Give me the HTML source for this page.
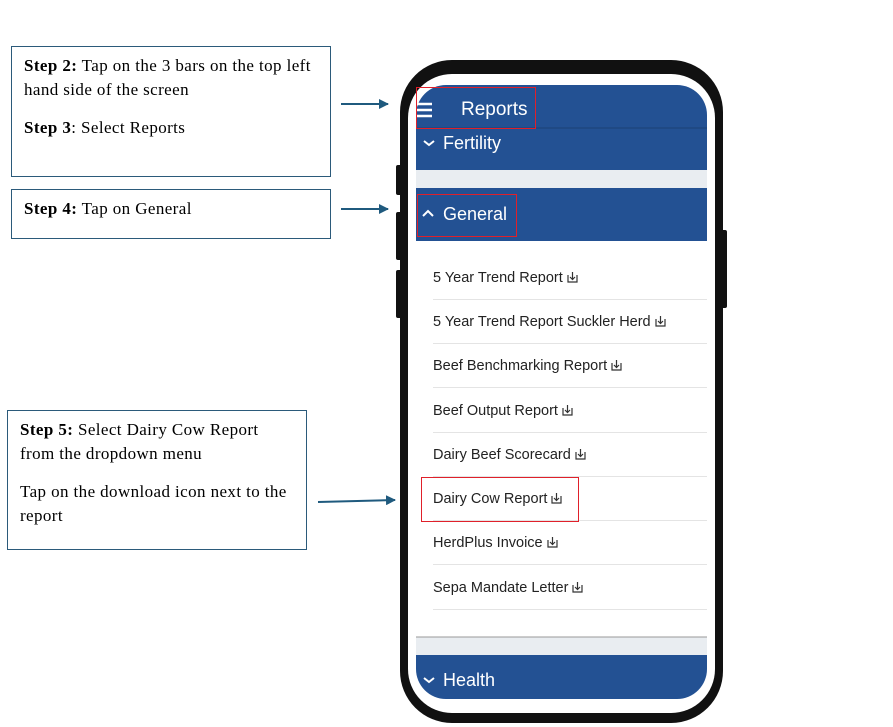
<!DOCTYPE html>
<html><head><style>
body{margin:0;width:893px;height:727px;background:#fff;position:relative;overflow:hidden;font-family:"Liberation Serif",serif}
.box{position:absolute;border:1.5px solid #2b5a7a;box-sizing:border-box;font-size:17px;letter-spacing:0.4px;line-height:24px;color:#000;padding:7px 12px}
.box p{margin:0 0 14px}
.abs{position:absolute}
.ui{font-family:"Liberation Sans","DejaVu Sans",sans-serif;color:#fff}
.item{position:absolute;left:433px;width:274px;font-family:"Liberation Sans",sans-serif;font-size:14.5px;color:#222;border-bottom:1px solid #e4e4e4;height:44px;box-sizing:border-box}
.item span{position:absolute;top:14px;white-space:nowrap}
.item svg{vertical-align:-1px;margin-left:4px}
.red{position:absolute;border:1.5px solid #e0202a}
</style></head><body>
<div class="box" style="left:11px;top:46px;width:320px;height:131px"><p style="width:296px"><b>Step 2:</b> Tap on the 3 bars on the top left hand side of the screen</p><p><b>Step 3</b>: Select Reports</p></div>
<div class="box" style="left:11px;top:189px;width:320px;height:50px"><b>Step 4:</b> Tap on General</div>
<div class="box" style="left:7px;top:410px;width:300px;height:140px;padding-left:12px"><p style="width:252px"><b>Step 5:</b> Select Dairy Cow Report from the dropdown menu</p><p style="width:276px">Tap on the download icon next to the report</p></div>
<svg class="abs" style="left:0;top:0" width="893" height="727">
<defs><marker id="a" markerWidth="5" markerHeight="5" refX="4.5" refY="2.5" orient="auto"><path d="M0,0L5,2.5L0,5z" fill="#1f5a7e"/></marker></defs>
<g stroke="#1f5a7e" stroke-width="2" marker-end="url(#a)"><line x1="341" y1="104" x2="388" y2="104"/><line x1="341" y1="209" x2="388" y2="209"/><line x1="318" y1="502" x2="395" y2="500"/></g>
<rect x="396" y="165" width="6" height="30" rx="2" fill="#111"/><rect x="396" y="212" width="6" height="48" rx="2" fill="#111"/><rect x="396" y="270" width="6" height="48" rx="2" fill="#111"/><rect x="721" y="230" width="6" height="78" rx="2" fill="#111"/>
<rect x="400" y="60" width="323" height="663" rx="52" fill="#111"/>
<rect x="408" y="74" width="307" height="639" rx="44" fill="#fff"/>
<clipPath id="c"><rect x="416" y="85" width="291" height="614" rx="30"/></clipPath>
<g clip-path="url(#c)"><rect x="416" y="85" width="291" height="85" fill="#235193"/><line x1="416" y1="128" x2="707" y2="128" stroke="#1e4780" stroke-width="1.5"/>
<rect x="416" y="170" width="291" height="18" fill="#e9edf1"/><rect x="416" y="188" width="291" height="53" fill="#235193"/>
<rect x="416" y="637" width="291" height="18" fill="#e9edf1"/><line x1="416" y1="637" x2="707" y2="637" stroke="#999"/><rect x="416" y="655" width="291" height="44" fill="#235193"/></g>
<g stroke="#fff" stroke-width="2.5"><line x1="416" y1="104" x2="432" y2="104"/><line x1="416" y1="110" x2="432" y2="110"/><line x1="416" y1="116" x2="432" y2="116"/></g>
<g stroke="#fff" stroke-width="2" fill="none"><path d="M424,141l5,4 5,-4"/><path d="M423,216l5,-5 5,5"/><path d="M424,678l5,4 5,-4"/></g>
</svg>
<div class="abs ui" style="left:461px;top:99px;font-size:19px">Reports</div>
<div class="abs ui" style="left:443px;top:133px;font-size:18px">Fertility</div>
<div class="abs ui" style="left:443px;top:204px;font-size:18px">General</div>
<div class="abs ui" style="left:443px;top:670px;font-size:18px">Health</div>
<div class="item" style="top:256px"><span>5 Year Trend Report<svg width="11" height="12"><path d="M1,4v7h9V4M5.5,1v7M3,6l2.5,2.5L8,6" stroke="#333" fill="none" stroke-width="1.2"/></svg></span></div>
<div class="item" style="top:300px"><span>5 Year Trend Report Suckler Herd<svg width="11" height="12"><path d="M1,4v7h9V4M5.5,1v7M3,6l2.5,2.5L8,6" stroke="#333" fill="none" stroke-width="1.2"/></svg></span></div>
<div class="item" style="top:344px"><span>Beef Benchmarking Report<svg width="11" height="12"><path d="M1,4v7h9V4M5.5,1v7M3,6l2.5,2.5L8,6" stroke="#333" fill="none" stroke-width="1.2"/></svg></span></div>
<div class="item" style="top:389px"><span>Beef Output Report<svg width="11" height="12"><path d="M1,4v7h9V4M5.5,1v7M3,6l2.5,2.5L8,6" stroke="#333" fill="none" stroke-width="1.2"/></svg></span></div>
<div class="item" style="top:433px"><span>Dairy Beef Scorecard<svg width="11" height="12"><path d="M1,4v7h9V4M5.5,1v7M3,6l2.5,2.5L8,6" stroke="#333" fill="none" stroke-width="1.2"/></svg></span></div>
<div class="item" style="top:477px"><span>Dairy Cow Report<svg width="11" height="12"><path d="M1,4v7h9V4M5.5,1v7M3,6l2.5,2.5L8,6" stroke="#333" fill="none" stroke-width="1.2"/></svg></span></div>
<div class="item" style="top:521px"><span>HerdPlus Invoice<svg width="11" height="12"><path d="M1,4v7h9V4M5.5,1v7M3,6l2.5,2.5L8,6" stroke="#333" fill="none" stroke-width="1.2"/></svg></span></div>
<div class="item" style="top:566px"><span>Sepa Mandate Letter<svg width="11" height="12"><path d="M1,4v7h9V4M5.5,1v7M3,6l2.5,2.5L8,6" stroke="#333" fill="none" stroke-width="1.2"/></svg></span></div>
<div class="red" style="left:416px;top:87px;width:118px;height:40px"></div>
<div class="red" style="left:417px;top:194px;width:98px;height:41px"></div>
<div class="red" style="left:421px;top:477px;width:156px;height:43px"></div>
</body></html>
